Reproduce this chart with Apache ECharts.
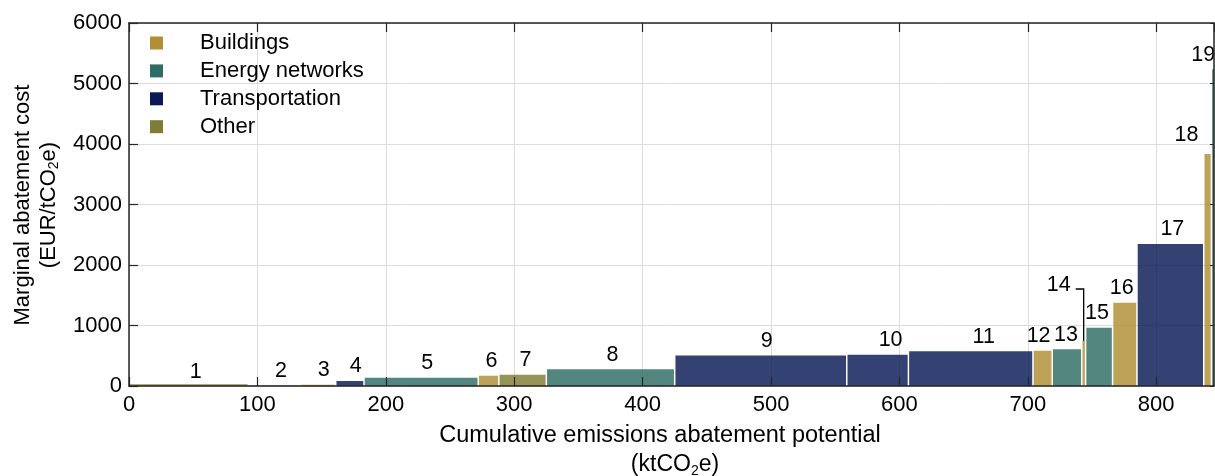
<!DOCTYPE html>
<html>
<head>
<meta charset="utf-8">
<script src="https://cdn.jsdelivr.net/npm/echarts@6/dist/echarts.min.js"></script>
<style>
html,body{margin:0;padding:0;background:#ffffff;}
#chart{width:1215px;height:476px;}
</style>
</head>
<body>
<div id="chart"></div>
<script>
// ---------------- DATA ----------------
const measureIds = ['1','2','3','4','5','6','7','8','9','10','11','12','13','14','15','16','17','18','19'];
const sectors = ['Other','Energy networks','Buildings','Transportation','Energy networks','Buildings','Other',
  'Energy networks','Transportation','Transportation','Transportation','Buildings','Energy networks','Buildings',
  'Energy networks','Buildings','Transportation','Buildings','Energy networks'];
// abatement potential of each measure (ktCO2e) = bar widths
const potentials = [93,40,28,22,89,16,37,100,134,48,97,15,23,3,21,19,52,6,6];
// marginal abatement cost (EUR/tCO2e) = bar heights
const costs = [30,8,20,83,137,170,187,276,505,515,573,583,606,744,964,1377,2347,3835,5235];
const sectorNames = ['Buildings','Energy networks','Transportation','Other'];
const xTickValues = [0,100,200,300,400,500,600,700,800];
const yTickValues = [0,1000,2000,3000,4000,5000,6000];

// ---------------- STYLE ----------------
const FONT = '"Liberation Sans", Arial, Helvetica, sans-serif';
const sectorColors = {
  'Buildings': '#B08F35',
  'Energy networks': '#2F6D64',
  'Transportation': '#0A1A57',
  'Other': '#7F7D33'
};
const BAR_ALPHA = 0.83;
function rgba(hex, a){
  const n = parseInt(hex.slice(1),16);
  return 'rgba(' + ((n>>16)&255) + ',' + ((n>>8)&255) + ',' + (n&255) + ',' + a + ')';
}
// label placement tweaks (pixels) per bar, in display order
const labelDx = [7,7,6,6,6,3,3,2,6,13,13,-4,-1,-25,-2,-3,2,-21,-12];
const labelDy = [2,0,0,0,0,0,0,0,0,0,0,0,0,-41,0,0,0,-4.5,0];
const LABEL_GAP = -14.5;
const leaderIndex = 13;

// build cumulative x-extents
const starts = [], ends = [];
let acc = 0;
for (let i = 0; i < potentials.length; i++) {
  starts.push(acc);
  acc += potentials[i];
  ends.push(acc);
}

function renderItem(params, api) {
  const x0 = api.value(0), x1 = api.value(1), v = api.value(2), i = api.value(3);
  const tl = api.coord([x0, v]);
  const br = api.coord([x1, 0]);
  const fill = rgba(sectorColors[sectors[i]], BAR_ALPHA);
  const cx = (tl[0] + br[0]) / 2;
  const children = [{
    type: 'rect',
    shape: { x: tl[0] + 0.75, y: tl[1], width: Math.max(br[0] - tl[0] - 1.5, 1), height: Math.max(br[1] - tl[1], 1) },
    style: { fill: fill }
  }, {
    type: 'text',
    x: cx + labelDx[i],
    y: tl[1] + LABEL_GAP + labelDy[i],
    style: { text: measureIds[i], fontSize: 21.5, fontFamily: FONT, fill: '#000', align: 'center', verticalAlign: 'middle' }
  }];
  if (i === leaderIndex) {
    children.push({
      type: 'polyline',
      shape: { points: [[cx - 8, tl[1] - 52], [cx, tl[1] - 52], [cx, tl[1]]] },
      style: { stroke: '#000', lineWidth: 1.3, fill: null }
    });
  }
  return { type: 'group', children: children };
}

const series = sectorNames.map(function (name) {
  const data = [];
  for (let i = 0; i < costs.length; i++) {
    if (sectors[i] === name) data.push([starts[i], ends[i], costs[i], i]);
  }
  return {
    type: 'custom',
    name: name,
    renderItem: renderItem,
    clip: true,
    xAxisIndex: 0,
    yAxisIndex: 0,
    itemStyle: { color: sectorColors[name] },
    encode: { x: [0, 1], y: 2 },
    data: data,
    z: 2
  };
});

const X_MAX = 845;
const axisLineStyle = { color: '#262626', width: 1.5 };
const tickStyle = { show: true, inside: true, length: 9, lineStyle: { color: '#262626', width: 1.2 } };

const option = {
  animation: false,
  backgroundColor: '#ffffff',
  grid: { left: 129, right: 1, top: 23, bottom: 90, containLabel: false },
  legend: {
    orient: 'vertical',
    left: 145,
    top: 27,
    icon: 'rect',
    itemWidth: 13,
    itemHeight: 13,
    itemGap: 5.9,
    selectedMode: false,
    textStyle: { fontSize: 22, fontFamily: FONT, color: '#000', lineHeight: 20, padding: [0, 0, 0, 32] },
    data: sectorNames.map(function (n) { return { name: n, itemStyle: { color: sectorColors[n], opacity: 1 } }; })
  },
  xAxis: [
    { type: 'value', min: 0, max: X_MAX, interval: 100, position: 'bottom', z: 5,
      axisLine: { show: true, onZero: false, lineStyle: axisLineStyle }, axisTick: tickStyle,
      axisLabel: { fontSize: 22, fontFamily: FONT, color: '#000', margin: 8, showMaxLabel: false,
        formatter: function (v) { return xTickValues.indexOf(v) >= 0 ? String(v) : ''; } },
      splitLine: { show: false } },
    { type: 'value', min: 0, max: X_MAX, interval: 100, position: 'top', z: 5,
      axisLine: { show: true, onZero: false, lineStyle: axisLineStyle }, axisTick: tickStyle,
      axisLabel: { show: false }, splitLine: { show: false } },
    { type: 'value', min: 0, max: X_MAX, interval: 100, position: 'bottom', z: 0,
      axisLine: { show: false }, axisTick: { show: false }, axisLabel: { show: false },
      splitLine: { show: true, lineStyle: { color: '#DCDCDC', width: 1 } } }
  ],
  yAxis: [
    { type: 'value', min: 0, max: 6000, interval: 1000, position: 'left', z: 5,
      axisLine: { show: true, onZero: false, lineStyle: axisLineStyle }, axisTick: tickStyle,
      axisLabel: { fontSize: 22, fontFamily: FONT, color: '#000', margin: 7,
        formatter: function (v) { return yTickValues.indexOf(v) >= 0 ? String(v) : ''; } },
      splitLine: { show: false } },
    { type: 'value', min: 0, max: 6000, interval: 1000, position: 'right', z: 5,
      axisLine: { show: true, onZero: false, lineStyle: axisLineStyle }, axisTick: { show: true, inside: true, length: 4, lineStyle: { color: '#262626' } },
      axisLabel: { show: false }, splitLine: { show: false } },
    { type: 'value', min: 0, max: 6000, interval: 1000, position: 'left', z: 0,
      axisLine: { show: false }, axisTick: { show: false }, axisLabel: { show: false },
      splitLine: { show: true, lineStyle: { color: '#DCDCDC', width: 1 } } }
  ],
  graphic: [
    { type: 'text', x: 660, y: 436, z: 10,
      style: { text: 'Cumulative emissions abatement potential', fontSize: 23.5, fontFamily: FONT, fill: '#000', align: 'center', verticalAlign: 'middle' } },
    { type: 'text', x: 675, y: 465, z: 10,
      style: { text: '{a|(ktCO}{s|2}{a|e)}', align: 'center', verticalAlign: 'middle',
        rich: { a: { fontSize: 23, fontFamily: FONT, fill: '#000', lineHeight: 26 },
                s: { fontSize: 14, fontFamily: FONT, fill: '#000', lineHeight: 14, verticalAlign: 'bottom' } } } },
    { type: 'text', x: 23, y: 205, rotation: Math.PI / 2, z: 10,
      style: { text: 'Marginal abatement cost', fontSize: 22, fontFamily: FONT, fill: '#000', align: 'center', verticalAlign: 'middle' } },
    { type: 'text', x: 49, y: 205, rotation: Math.PI / 2, z: 10,
      style: { text: '{a|(EUR/tCO}{s|2}{a|e)}', align: 'center', verticalAlign: 'middle',
        rich: { a: { fontSize: 22, fontFamily: FONT, fill: '#000', lineHeight: 25 },
                s: { fontSize: 14, fontFamily: FONT, fill: '#000', lineHeight: 14, verticalAlign: 'bottom' } } } }
  ],
  series: series
};

const chart = echarts.init(document.getElementById('chart'), null, { renderer: 'canvas' });
chart.setOption(option);
</script>
</body>
</html>
